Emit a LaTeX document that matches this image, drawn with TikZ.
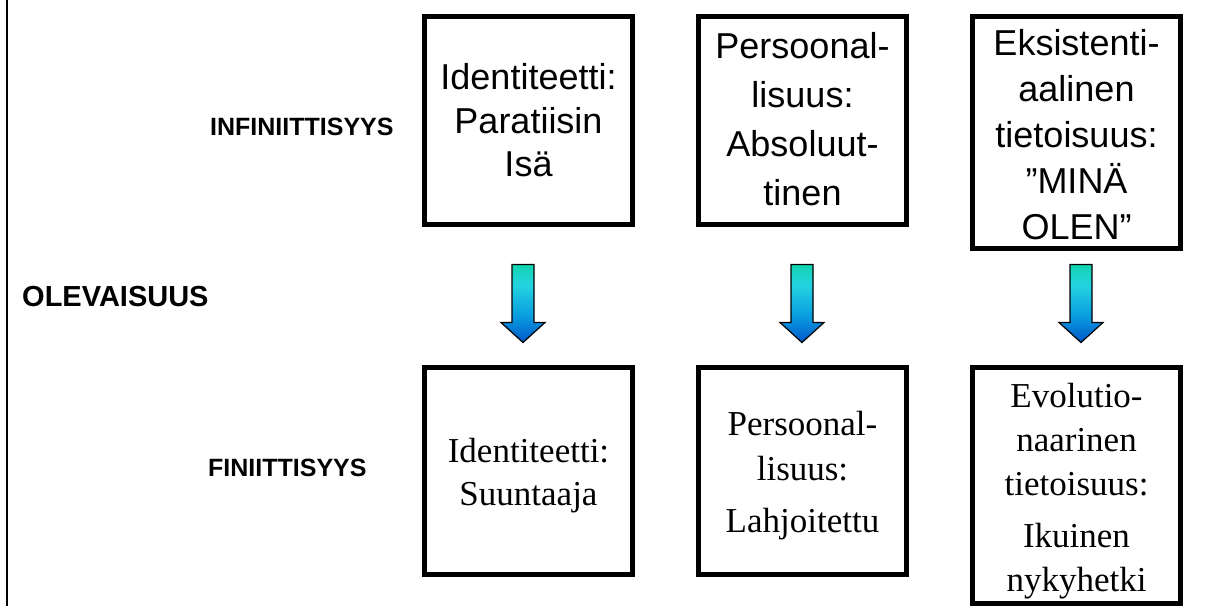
\documentclass[tikz,border=0pt]{standalone}
\usepackage{fontspec}
\setmainfont{Liberation Serif}
\newfontfamily\arialf{Liberation Sans}
\definecolor{arA}{HTML}{12D4B0}
\definecolor{arB}{HTML}{24D4E0}
\definecolor{arC}{HTML}{0A9CE0}
\definecolor{arD}{HTML}{0058C8}
\pgfdeclareverticalshading{blockshade}{100bp}{color(0bp)=(arD); color(25bp)=(arD); color(42bp)=(arC); color(62bp)=(arB); color(75bp)=(arA); color(100bp)=(arA)}
\tikzset{
  box/.style={draw=black, line width=5pt, inner sep=0pt, align=center, minimum width=208pt, minimum height=208pt},
  sansbox/.style={box, font=\arialf\fontsize{36}{43.5}\selectfont},
  serifbox/.style={box, font=\fontsize{35}{43}\selectfont},
  lbl/.style={anchor=base west, inner sep=0pt, font=\arialf\bfseries\fontsize{25}{30}\selectfont},
  blockarrow/.pic={
    \shadedraw[shading=blockshade, draw=black, line width=1.2pt, line join=miter]
      (-11,0) -- (11,0) -- (11,58) -- (22,58) -- (0,78) -- (-22,58) -- (-11,58) -- cycle;
  }
}
\begin{document}
\begin{tikzpicture}[x=1pt, y=-1pt]
\useasboundingbox (0,0) rectangle (1213,606);
\fill[white] (0,0) rectangle (1213,606);
% left vertical rule
\coordinate (ltop) at (7,0);
\coordinate (lbot) at (7,606);
\draw[line width=1.5pt] (ltop) -- (lbot);
% labels
\node[lbl] (inf) at (210,135) {INFINIITTISYYS};
\node[lbl, font=\arialf\bfseries\fontsize{29}{34}\selectfont] (ole) at (22,306) {OLEVAISUUS};
\node[lbl] (fin) at (208,476) {FINIITTISYYS};
% top boxes
\node[sansbox] (t1) at (528.5,120.5) {Identiteetti:\\Paratiisin\\Isä};
\node[sansbox, font=\arialf\fontsize{36}{49}\selectfont] (t2) at (802.5,120.5) {Persoonal-\\lisuus:\\Absoluut-\\tinen\rule[-4pt]{0pt}{4pt}};
\node[sansbox, font=\arialf\fontsize{36}{46}\selectfont, minimum height=232pt] (t3) at (1076.5,132.5) {\rule{0pt}{31pt}Eksistenti-\\aalinen\\tietoisuus:\\”MINÄ\\OLEN”};
% bottom boxes
\node[serifbox, minimum height=207pt] (b1) at (528.5,471) {\rule{0pt}{32.6pt}Identiteetti:\\Suuntaaja};
\node[serifbox, minimum height=207pt, font=\fontsize{35}{45}\selectfont] (b2) at (802.5,471) {\rule{0pt}{32.6pt}Persoonal-\\lisuus:\\[7pt]Lahjoitettu};
\node[serifbox, minimum height=236pt, font=\fontsize{35}{44}\selectfont] (b3) at (1076.5,485.5) {\rule{0pt}{34.6pt}Evolutio-\\naarinen\\tietoisuus:\\[8pt]Ikuinen\\nykyhetki};
% block arrows
\pic at ([xshift=-5.5pt, yshift=100.5pt]b1.north) {blockarrow};
\pic at ([xshift=-0.5pt, yshift=100.5pt]b2.north) {blockarrow};
\pic at ([xshift=4.5pt, yshift=100.5pt]b3.north) {blockarrow};
\end{tikzpicture}
\end{document}
